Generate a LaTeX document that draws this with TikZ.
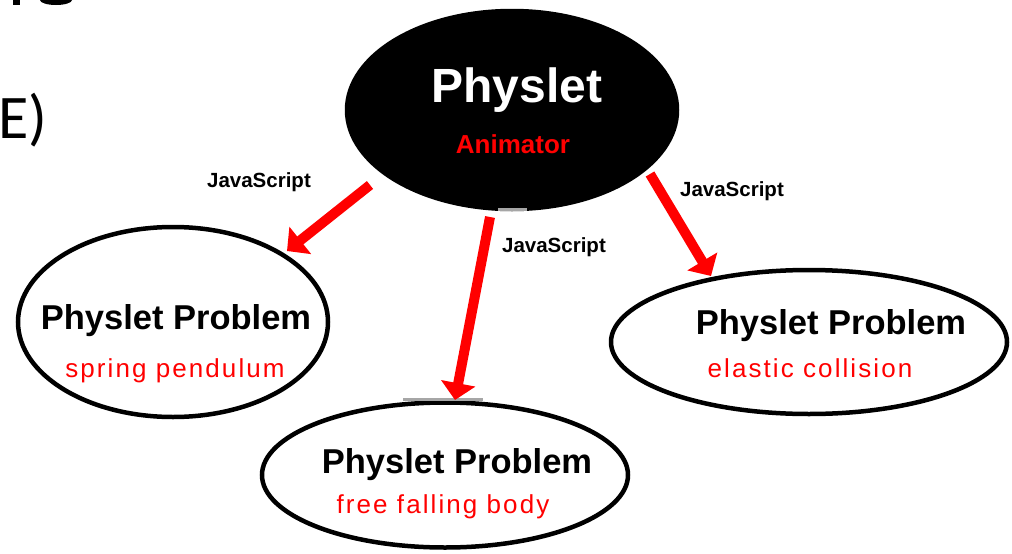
\documentclass[tikz,border=0pt]{standalone}
\usepackage{fontspec}
\setmainfont{Liberation Sans}
\newfontfamily\slidefont{Carlito}
\usetikzlibrary{shapes.geometric,arrows.meta}
\begin{document}
\begin{tikzpicture}[x=1pt,y=-1pt,
  bubble/.style={ellipse,draw=black,line width=4.5pt,inner sep=0pt,fill=white},
  redarrow/.style={draw=red,line width=10pt,-{Triangle[width=34pt,length=17pt]}},
  titletext/.style={anchor=base,inner sep=0pt,font=\fontsize{34.5}{38}\selectfont\bfseries},
  subtext/.style={anchor=base,inner sep=0pt,text=red,font=\fontsize{26}{30}\selectfont\addfontfeature{LetterSpace=8}},
  jslabel/.style={anchor=base,inner sep=0pt,font=\fontsize{20.5}{24}\selectfont\bfseries}]
\useasboundingbox (0,0) rectangle (1012,554);
\fill[white] (0,0) rectangle (1012,554);
% slide fragments
\fill[black] (13,0) rectangle (20,5);
\fill[black] (40,0) arc[start angle=180,end angle=360,x radius=16,y radius=-5] -- cycle;
\node[anchor=base west,inner sep=0pt,font=\fontsize{62}{66}\selectfont\slidefont] (frag) at (-2,138) {E)};
% ellipses
\node[bubble,fill=black,minimum width=330pt,minimum height=198pt] (top) at (512,110) {};
\node[bubble,minimum width=310pt,minimum height=190pt] (left) at (173,322) {};
\node[bubble,minimum width=396pt,minimum height=144pt] (right) at (809,342) {};
\node[bubble,minimum width=366pt,minimum height=145pt] (bottom) at (445,475) {};
% artefact bars
\draw[gray!70,line width=3pt] (498,209) -- (527,209);
\draw[gray!70,line width=3pt] (403,399.5) -- (483,399.5);
% texts
\node[anchor=base,inner sep=0pt,text=white,font=\fontsize{48}{52}\selectfont\bfseries] (t0) at (517,102) {Physlet};
\node[anchor=base,inner sep=0pt,text=red,font=\fontsize{26}{30}\selectfont\bfseries] (t0s) at (513,153) {Animator};
\node[titletext] (t1) at (176,329) {Physlet Problem};
\node[subtext] (t1s) at (175,377) {spring pendulum};
\node[titletext] (t2) at (831,334) {Physlet Problem};
\node[subtext] (t2s) at (810,377) {elastic collision};
\node[titletext] (t3) at (457,473) {Physlet Problem};
\node[subtext] (t3s) at (443,513) {free falling body};
% arrows
\coordinate (s1) at (370,185); \coordinate (e1) at (287,251);
\coordinate (s2) at (490,217); \coordinate (e2) at (455,400);
\coordinate (s3) at (650,174); \coordinate (e3) at (711,276);
\draw[redarrow] (s1) -- (e1);
\draw[redarrow] (s2) -- (e2);
\draw[redarrow] (s3) -- (e3);
\node[jslabel] (j1) at (259,187) {JavaScript};
\node[jslabel] (j2) at (554,252) {JavaScript};
\node[jslabel] (j3) at (732,196) {JavaScript};
\end{tikzpicture}
\end{document}
